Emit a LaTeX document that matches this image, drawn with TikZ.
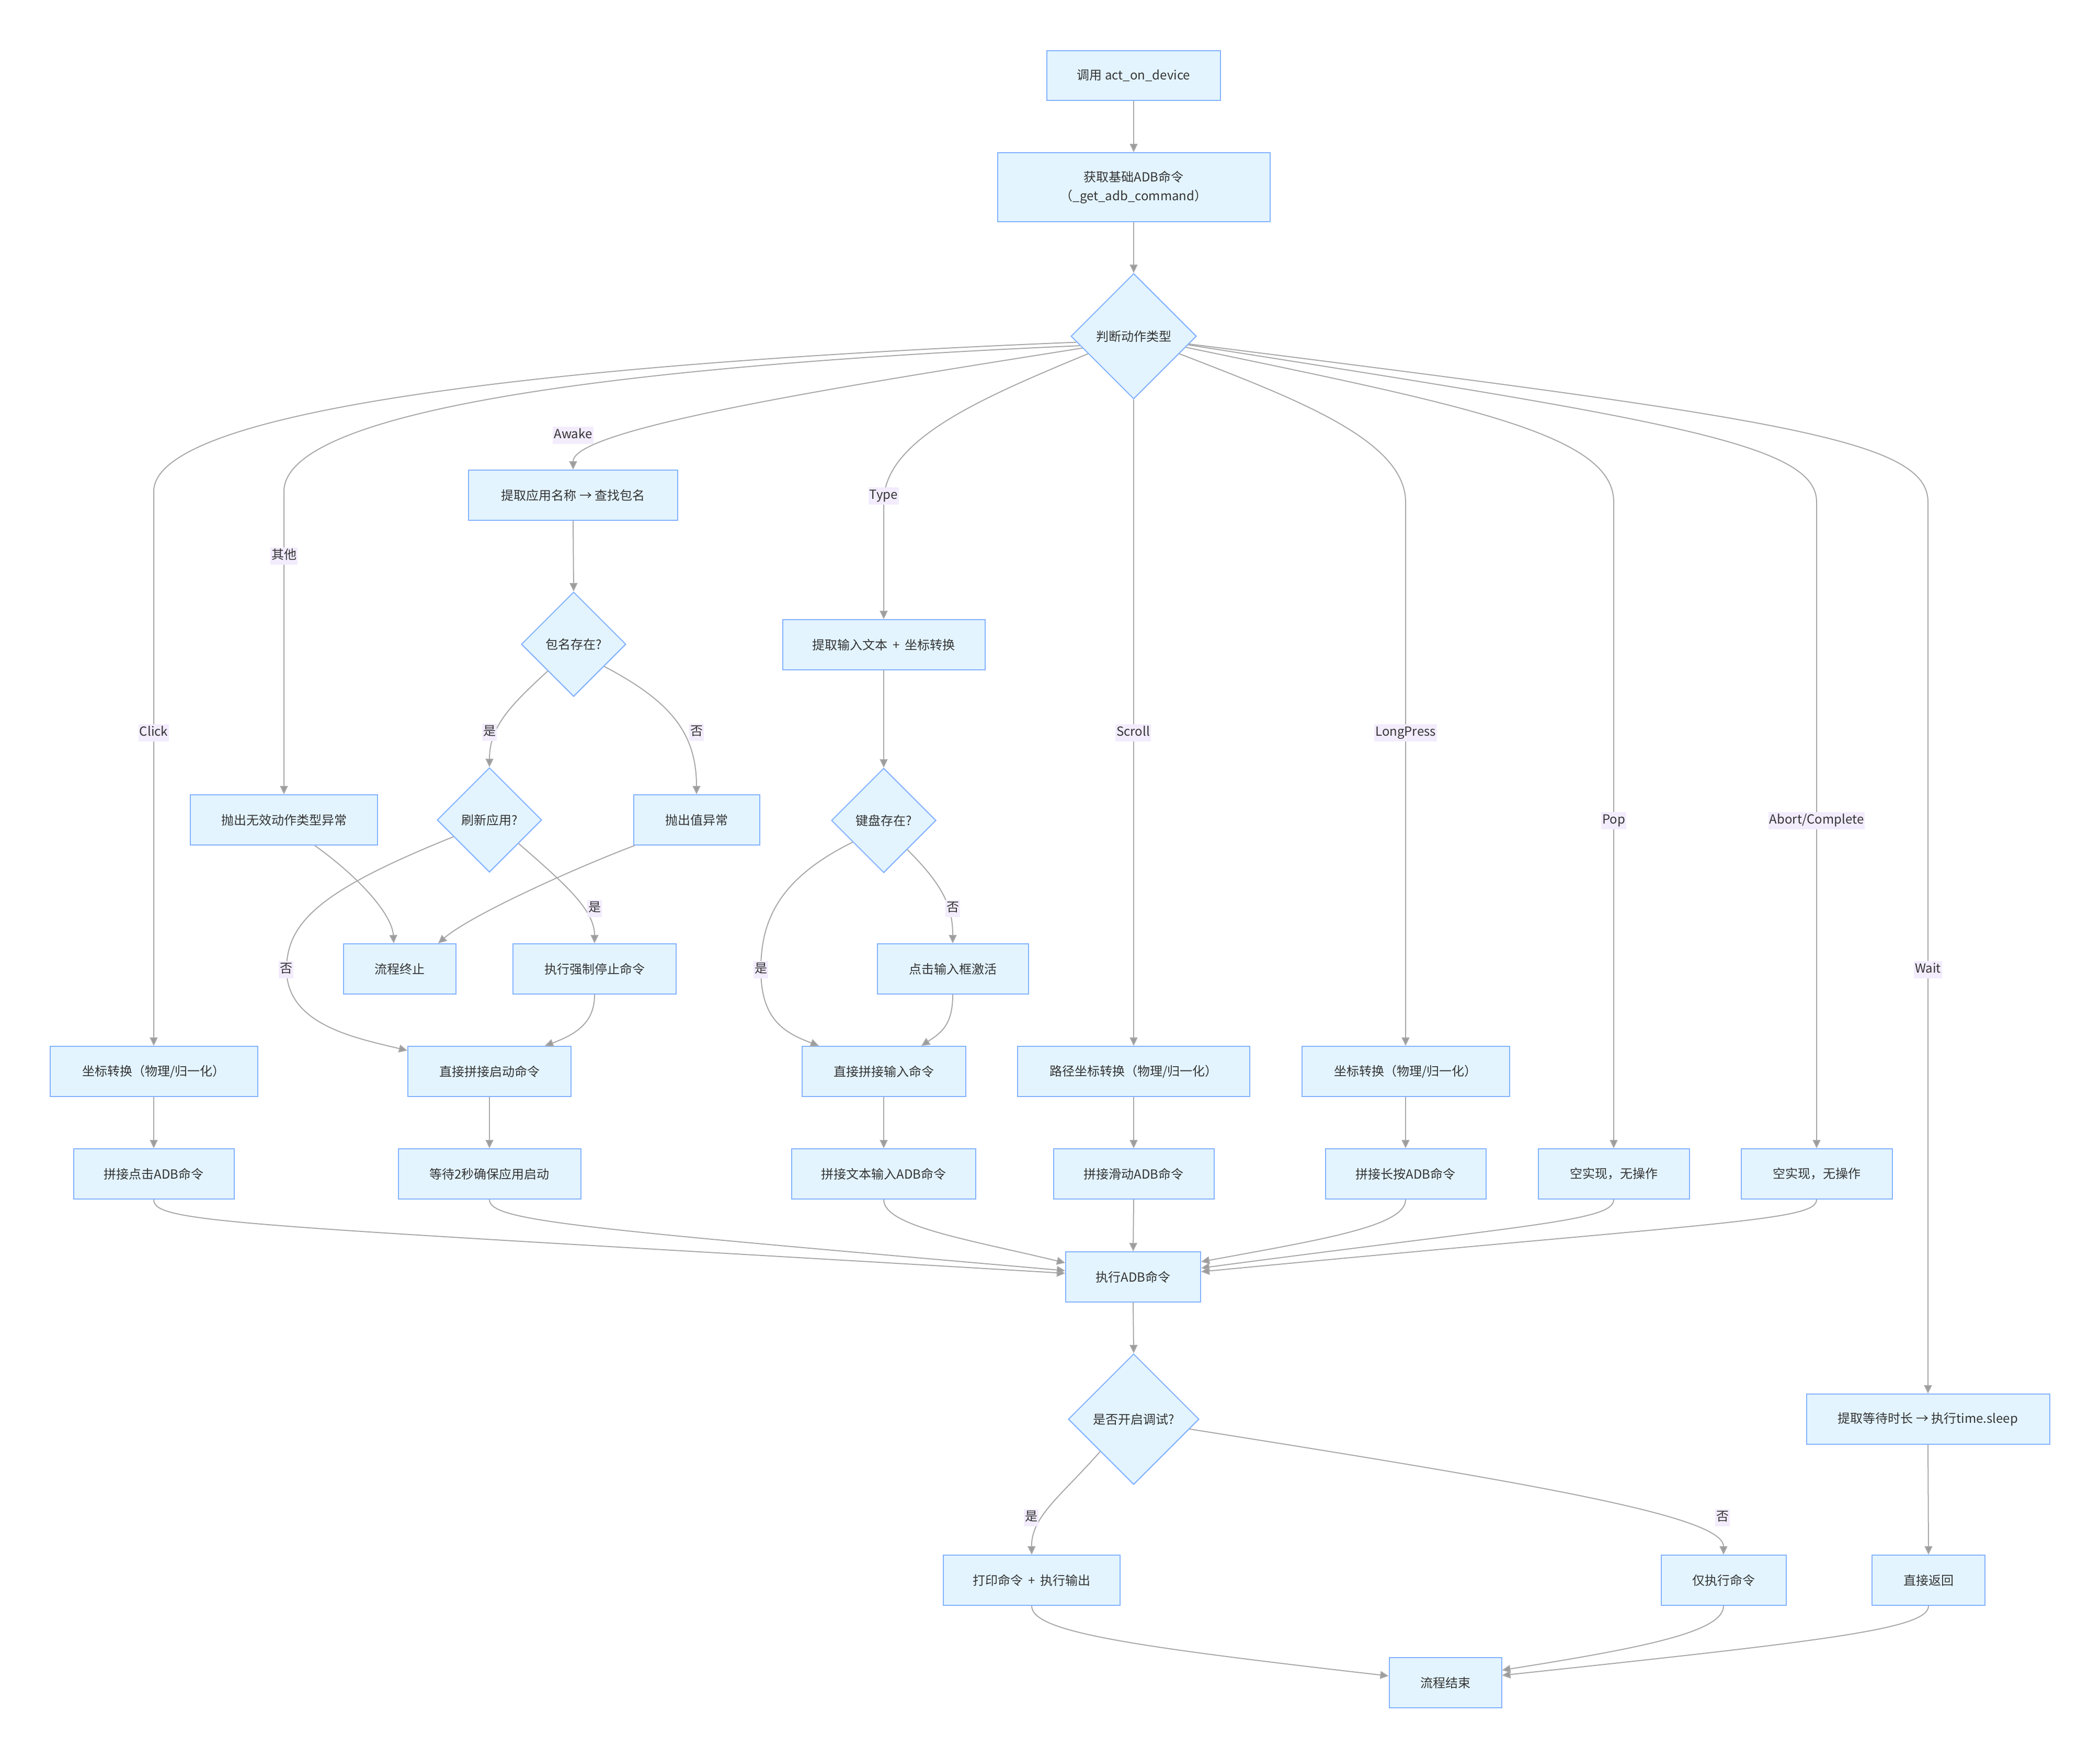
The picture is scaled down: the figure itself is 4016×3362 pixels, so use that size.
\documentclass[tikz,border=0pt]{standalone}
\usepackage{fontspec}
\setmainfont{Noto Sans CJK SC}
\usetikzlibrary{arrows.meta,shapes.geometric,calc}
\definecolor{boxfill}{RGB}{227,244,254}
\definecolor{boxline}{RGB}{130,177,255}
\definecolor{edgecol}{RGB}{168,168,168}
\definecolor{tipcol}{RGB}{155,155,155}
\definecolor{lblfill}{RGB}{243,236,253}
\definecolor{txt}{RGB}{51,51,51}
\begin{document}
\begin{tikzpicture}[x=0.5pt,y=-0.5pt,
 every node/.style={font=\fontsize{12}{18}\selectfont, text=txt},
 proc/.style={draw=boxline, fill=boxfill, line width=1pt, minimum height=48pt, inner sep=0pt, align=center},
 decide/.style={draw=boxline, fill=boxfill, line width=1pt, shape=diamond, aspect=1, inner sep=0pt},
 edge/.style={draw=edgecol, line width=1pt, -{Triangle[length=8pt,width=7.5pt,fill=tipcol]}},
 lbl/.style={fill=lblfill, inner xsep=1pt, inner ysep=2.5pt, text height=9pt, text depth=2.5pt}]
\useasboundingbox (0,0) rectangle (4016,3362);
\fill[white] (0,0) rectangle (4016,3362);

% nodes
\node[proc, minimum width=166pt, minimum height=47.5pt] (n1) at (2168,144) {调用 act\_on\_device};
\node[proc, minimum width=260.5pt, minimum height=66pt] (n2) at (2168,358) {获取基础ADB命令\\（\_get\_adb\_command）};
\node[decide, minimum width=120pt, minimum height=120pt] (d1) at (2168,643) {判断动作类型};
\node[proc, minimum width=200pt] (n3) at (1096,947) {提取应用名称 → 查找包名};
\node[decide, minimum width=100pt, minimum height=100pt] (d2) at (1097,1232) {包名存在?};
\node[proc, minimum width=179pt] (n4) at (543,1568) {抛出无效动作类型异常};
\node[decide, minimum width=100pt, minimum height=100pt] (d3) at (936,1568) {刷新应用?};
\node[proc, minimum width=120.5pt] (n5) at (1332,1568) {抛出值异常};
\node[proc, minimum width=107.5pt] (n6) at (764,1853) {流程终止};
\node[proc, minimum width=156pt] (n7) at (1137,1853) {执行强制停止命令};
\node[proc, minimum width=156pt] (n8) at (936,2049) {直接拼接启动命令};
\node[proc, minimum width=174.5pt] (n9) at (936,2245) {等待2秒确保应用启动};
\node[proc, minimum width=198.5pt] (n10) at (294,2049) {坐标转换（物理/归一化）};
\node[proc, minimum width=153.5pt] (n11) at (294,2245) {拼接点击ADB命令};
\node[proc, minimum width=193.5pt] (n12) at (1690,1233) {提取输入文本 \,+\, 坐标转换};
\node[decide, minimum width=100pt, minimum height=100pt] (d4) at (1690,1569) {键盘存在?};
\node[proc, minimum width=144.5pt] (n13) at (1822,1853) {点击输入框激活};
\node[proc, minimum width=156.5pt] (n14) at (1690,2049) {直接拼接输入命令};
\node[proc, minimum width=176pt] (n15) at (1690,2245) {拼接文本输入ADB命令};
\node[proc, minimum width=222pt] (n16) at (2168,2049) {路径坐标转换（物理/归一化）};
\node[proc, minimum width=153.5pt] (n17) at (2168,2245) {拼接滑动ADB命令};
\node[proc, minimum width=198.5pt] (n18) at (2688,2049) {坐标转换（物理/归一化）};
\node[proc, minimum width=153.5pt] (n19) at (2688,2245) {拼接长按ADB命令};
\node[proc, minimum width=144.5pt] (n20) at (3086,2245) {空实现，无操作};
\node[proc, minimum width=144.5pt] (n21) at (3474,2245) {空实现，无操作};
\node[proc, minimum width=129pt] (n22) at (2167,2442) {执行ADB命令};
\node[decide, minimum width=125pt, minimum height=125pt] (d5) at (2168,2714) {是否开启调试?};
\node[proc, minimum width=232.5pt] (n23) at (3687,2714) {提取等待时长 → 执行time.sleep};
\node[proc, minimum width=169pt] (n24) at (1973,3022) {打印命令 \,+\, 执行输出};
\node[proc, minimum width=119.5pt] (n25) at (3296,3022) {仅执行命令};
\node[proc, minimum width=108pt] (n26) at (3688,3022) {直接返回};
\node[proc, minimum width=107.5pt] (n27) at (2764,3218) {流程结束};

% edges
\draw[edge] (n1.south) -- (n2.north);
\draw[edge] (n2.south) -- (d1.north);
\draw[edge] (d1.186) .. controls (1300,685) and (294,760) .. (294,940) -- (n10.north);
\draw[edge] (d1.190) .. controls (1400,690) and (543,760) .. (543,940) -- (n4.north);
\draw[edge] (d1.193) .. controls (1600,740) and (1096,820) .. (n3.north);
\draw[edge] (d1.201) .. controls (1880,760) and (1690,840) .. (1690,960) -- (n12.north);
\draw[edge] (d1.south) -- (n16.north);
\draw[edge] (d1.339) .. controls (2470,760) and (2688,840) .. (2688,960) -- (n18.north);
\draw[edge] (d1.348) .. controls (2800,775) and (3086,830) .. (3086,960) -- (n20.north);
\draw[edge] (d1.351) .. controls (3200,805) and (3474,850) .. (3474,960) -- (n21.north);
\draw[edge] (d1.352) .. controls (3400,800) and (3687,840) .. (3687,960) -- (n23.north);

\draw[edge] (n3.south) -- (d2.north);
\draw[edge] (d2.226) .. controls (975,1350) and (936,1390) .. (d3.north);
\draw[edge] (d2.324) .. controls (1280,1340) and (1332,1400) .. (n5.north);
\draw[edge] (d3.205) .. controls (620,1700) and (548,1760) .. (548,1854) .. controls (548,1960) and (680,1985) .. ($(n8.north west)+(0,9)$);
\draw[edge] (d3.321) .. controls (1080,1690) and (1137,1740) .. (n7.north);
\draw[edge] ($(n4.south)+(59,0)$) .. controls (690,1680) and (750,1750) .. ($(n6.north)+(-11,0)$);
\draw[edge] ($(n5.south west)+(3,0)$) .. controls (1100,1660) and (900,1750) .. ($(n6.north)+(74,0)$);
\draw[edge] (n7.south) .. controls (1137,1950) and (1110,1975) .. ($(n8.north)+(106,0)$);
\draw[edge] (n8.south) -- (n9.north);
\draw[edge] (n10.south) -- (n11.north);

\draw[edge] (n12.south) -- (d4.north);
\draw[edge] (d4.215) .. controls (1490,1680) and (1455,1760) .. (1455,1854) .. controls (1455,1950) and (1500,1975) .. ($(n14.north)+(-124,0)$);
\draw[edge] (d4.309) .. controls (1800,1690) and (1822,1730) .. (n13.north);
\draw[edge] (n13.south) .. controls (1822,1960) and (1800,1975) .. ($(n14.north)+(72,0)$);
\draw[edge] (n14.south) -- (n15.north);
\draw[edge] (n16.south) -- (n17.north);
\draw[edge] (n18.south) -- (n19.north);

\draw[edge] (n11.south) .. controls (294,2340) and (450,2341) .. ($(n22.west)+(0,-7)$);
\draw[edge] (n9.south) .. controls (936,2335) and (1100,2348) .. ($(n22.west)+(0,-12)$);
\draw[edge] (n15.south) .. controls (1690,2345) and (1850,2370) .. ($(n22.west)+(0,-27)$);
\draw[edge] (n17.south) -- (n22.north);
\draw[edge] (n19.south) .. controls (2688,2345) and (2530,2370) .. ($(n22.east)+(0,-29)$);
\draw[edge] (n20.south) .. controls (3086,2335) and (2930,2341) .. ($(n22.east)+(0,-17)$);
\draw[edge] (n21.south) .. controls (3474,2335) and (3300,2336) .. ($(n22.east)+(0,-10)$);

\draw[edge] (n22.south) -- (d5.north);
\draw[edge] (d5.224) .. controls (2030,2860) and (1972,2900) .. (n24.north);
\draw[edge] (d5.350) .. controls (2950,2840) and (3296,2900) .. (n25.north);
\draw[edge] (n23.south) -- (n26.north);
\draw[edge] (n24.south) .. controls (1973,3120) and (2150,3147) .. ($(n27.west)+(0,-13)$);
\draw[edge] (n25.south) .. controls (3296,3120) and (3150,3150) .. ($(n27.east)+(0,-24)$);
\draw[edge] (n26.south) .. controls (3688,3115) and (3500,3137) .. ($(n27.east)+(0,-14)$);

% edge labels
\node[lbl] (lClick) at (294,1401) {Click};
\node[lbl] (lOther) at (543,1063) {其他};
\node[lbl] (lAwake) at (1096,832) {Awake};
\node[lbl] (lType) at (1690,948) {Type};
\node[lbl] (lScroll) at (2167,1401) {Scroll};
\node[lbl] (lLong) at (2688,1401) {LongPress};
\node[lbl] (lPop) at (3086,1569) {Pop};
\node[lbl] (lAbort) at (3474,1569) {Abort/Complete};
\node[lbl] (lWait) at (3687,1854) {Wait};
\node[lbl] (lY1) at (936,1400) {是};
\node[lbl] (lN1) at (1332,1400) {否};
\node[lbl] (lN2) at (547,1854) {否};
\node[lbl] (lY2) at (1137,1737) {是};
\node[lbl] (lY3) at (1455,1854) {是};
\node[lbl] (lN3) at (1822,1737) {否};
\node[lbl] (lY4) at (1972,2902) {是};
\node[lbl] (lN4) at (3294,2902) {否};
\end{tikzpicture}
\end{document}
